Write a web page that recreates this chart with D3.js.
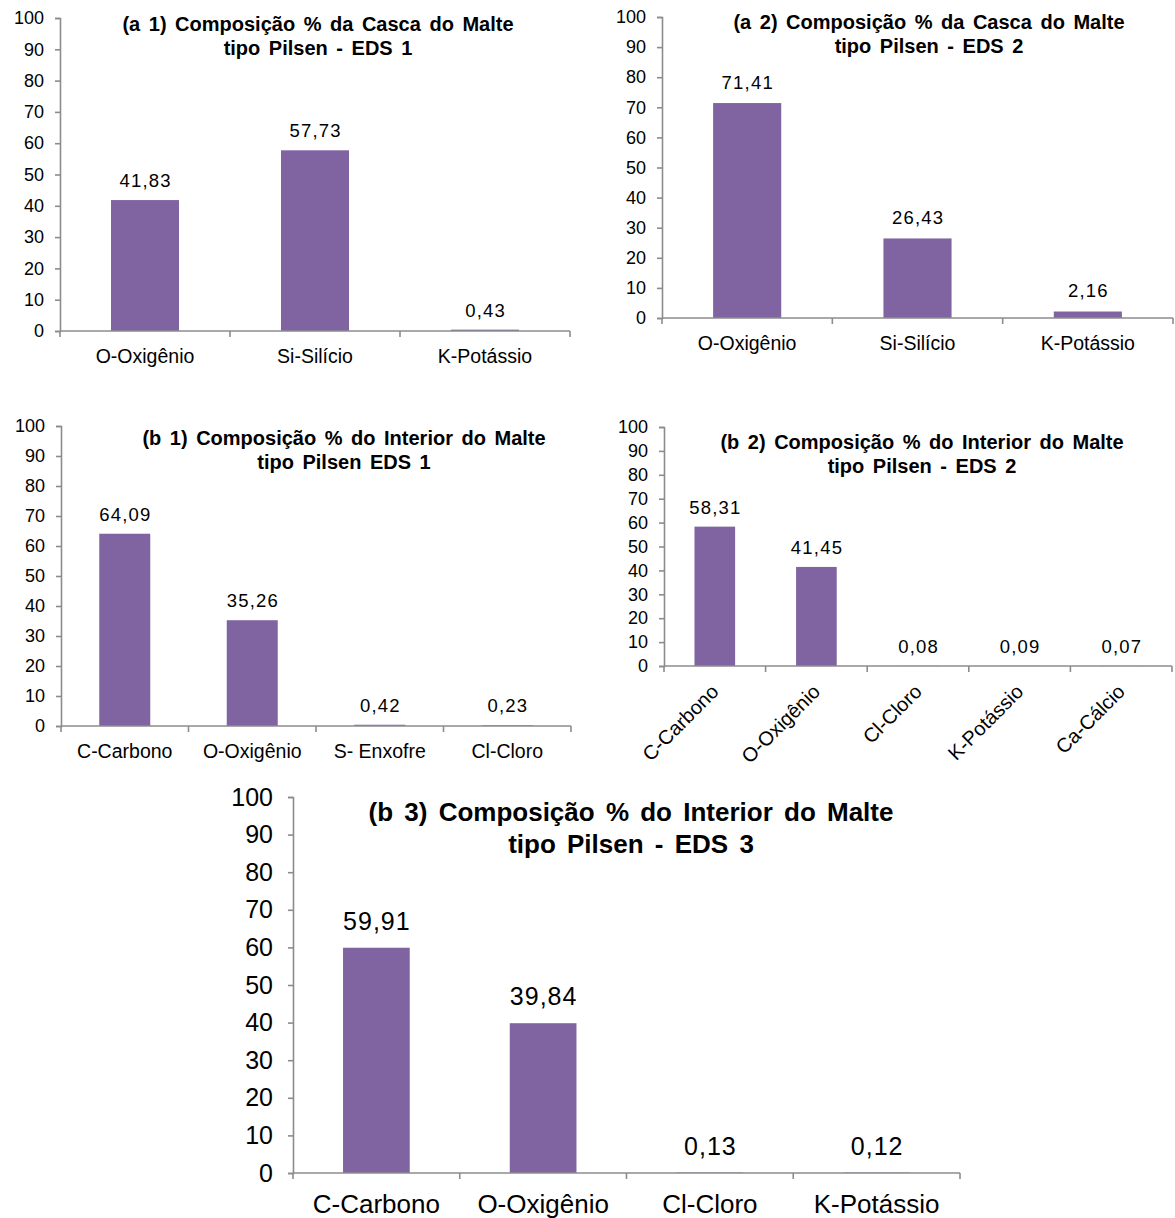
<!DOCTYPE html>
<html lang="pt">
<head>
<meta charset="utf-8">
<script src="https://cdn.jsdelivr.net/npm/d3@7"></script>
<style>
  html, body { margin: 0; padding: 0; background: #fff; }
  svg { display: block; }
  text { font-family: "Liberation Sans", Arial, sans-serif; fill: #000; }
</style>
</head>
<body>
<svg id="chart" width="1175" height="1218"></svg>
<script>
// Composição elementar (EDS) do malte tipo Pilsen, em % atômica
const a1Categories = ["O-Oxigênio", "Si-Silício", "K-Potássio"];
const a1Values = [41.83, 57.73, 0.43];

const a2Categories = ["O-Oxigênio", "Si-Silício", "K-Potássio"];
const a2Values = [71.41, 26.43, 2.16];

const b1Categories = ["C-Carbono", "O-Oxigênio", "S- Enxofre", "Cl-Cloro"];
const b1Values = [64.09, 35.26, 0.42, 0.23];

const b2Categories = ["C-Carbono", "O-Oxigênio", "Cl-Cloro", "K-Potássio", "Ca-Cálcio"];
const b2Values = [58.31, 41.45, 0.08, 0.09, 0.07];

const b3Categories = ["C-Carbono", "O-Oxigênio", "Cl-Cloro", "K-Potássio"];
const b3Values = [59.91, 39.84, 0.13, 0.12];

const yTicks = [0, 10, 20, 30, 40, 50, 60, 70, 80, 90, 100];

const a1Title = ["(a 1) Composição % da Casca do Malte", "tipo Pilsen - EDS 1"];
const a2Title = ["(a 2) Composição % da Casca do Malte", "tipo Pilsen - EDS 2"];
const b1Title = ["(b 1) Composição % do Interior do Malte", "tipo Pilsen EDS 1"];
const b2Title = ["(b 2) Composição % do Interior do Malte", "tipo Pilsen - EDS 2"];
const b3Title = ["(b 3) Composição % do Interior do Malte", "tipo Pilsen - EDS 3"];

const BAR = "#8064A2";
const AXIS = "#8c8c8c";
const fmt = v => v.toFixed(2).replace(".", ",");

const svg = d3.select("#chart");

function panel(opt) {
  const g = svg.append("g");
  const x = d3.scaleBand().domain(opt.categories).range([opt.left, opt.right]).padding(0);
  const y = d3.scaleLinear().domain([0, 100]).range([opt.bottom, opt.top]);
  const bw = x.bandwidth() * 0.4;

  // bars
  g.selectAll("rect.bar")
    .data(opt.values)
    .join("rect")
    .attr("class", "bar")
    .attr("x", (d, i) => x(opt.categories[i]) + (x.bandwidth() - bw) / 2)
    .attr("width", bw)
    .attr("y", d => y(d))
    .attr("height", d => y(0) - y(d))
    .attr("fill", BAR);

  // y axis
  const ya = g.append("g")
    .attr("transform", `translate(${opt.left},0)`)
    .call(d3.axisLeft(y).tickValues(yTicks).tickSize(5).tickPadding(opt.tickPad).tickFormat(d3.format("d")));
  ya.select(".domain").attr("stroke", AXIS).attr("stroke-width", 1.6);
  ya.selectAll(".tick line").attr("stroke", AXIS).attr("stroke-width", 1.6);
  ya.selectAll(".tick text")
    .style("font-family", '"Liberation Sans", Arial, sans-serif')
    .style("font-size", opt.tickFont + "px")
    .attr("fill", "#000");

  // x axis line with tick marks at category boundaries
  g.append("line")
    .attr("x1", opt.left).attr("x2", opt.right)
    .attr("y1", y(0)).attr("y2", y(0))
    .attr("stroke", AXIS).attr("stroke-width", 1.6);
  const edges = opt.categories.map(c => x(c)).concat([opt.right]);
  g.selectAll("line.xt")
    .data(edges)
    .join("line")
    .attr("class", "xt")
    .attr("x1", d => d).attr("x2", d => d)
    .attr("y1", y(0)).attr("y2", y(0) + 6)
    .attr("stroke", AXIS).attr("stroke-width", 1.6);

  // category labels
  const cl = g.selectAll("text.cat")
    .data(opt.categories)
    .join("text")
    .attr("class", "cat")
    .style("font-size", opt.catFont + "px");
  if (opt.rotate) {
    cl.attr("text-anchor", "end")
      .attr("transform", d => `translate(${x(d) + x.bandwidth() / 2 + 5},${y(0) + 27}) rotate(-45)`)
      .text(d => d);
  } else {
    cl.attr("text-anchor", "middle")
      .attr("x", d => x(d) + x.bandwidth() / 2)
      .attr("y", y(0) + opt.catOffset)
      .text(d => d);
  }

  // value labels
  g.selectAll("text.val")
    .data(opt.values)
    .join("text")
    .attr("class", "val")
    .attr("text-anchor", "middle")
    .style("font-size", opt.valFont + "px")
    .style("letter-spacing", opt.valSpacing + "px")
    .attr("x", (d, i) => x(opt.categories[i]) + x.bandwidth() / 2 + opt.valSpacing / 2)
    .attr("y", d => y(d) - opt.valOffset)
    .text(d => fmt(d));

  // title
  g.selectAll("text.title")
    .data(opt.title)
    .join("text")
    .attr("class", "title")
    .attr("text-anchor", "middle")
    .style("font-size", opt.titleFont + "px")
    .style("font-weight", "bold")
    .style("word-spacing", opt.wordSpacing + "px")
    .attr("x", opt.titleX)
    .attr("y", (d, i) => opt.titleY + i * opt.titleGap)
    .text(d => d);
}

const small = { tickFont: 18, tickPad: 11, catFont: 19.5, catOffset: 32, valFont: 18.5, valSpacing: 1.2,
                valOffset: 13, titleFont: 20, wordSpacing: 3, titleGap: 24 };

panel(Object.assign({}, small, {
  categories: a1Categories, values: a1Values, title: a1Title,
  left: 60, right: 570, top: 18, bottom: 331, titleX: 318, titleY: 31
}));

panel(Object.assign({}, small, {
  categories: a2Categories, values: a2Values, title: a2Title,
  left: 662, right: 1173, top: 17, bottom: 318, titleX: 929, titleY: 29, valOffset: 14
}));

panel(Object.assign({}, small, {
  categories: b1Categories, values: b1Values, title: b1Title,
  left: 61, right: 571, top: 426, bottom: 726, titleX: 344, titleY: 445
}));

panel(Object.assign({}, small, {
  categories: b2Categories, values: b2Values, title: b2Title, rotate: true, catFont: 20,
  left: 664, right: 1172, top: 427, bottom: 666, titleX: 922, titleY: 449
}));

panel({
  categories: b3Categories, values: b3Values, title: b3Title,
  left: 293, right: 960, top: 797, bottom: 1173,
  tickFont: 25, tickPad: 15, catFont: 26, catOffset: 40, valFont: 25, valSpacing: 1,
  valOffset: 18, titleFont: 26, wordSpacing: 4, titleGap: 32, titleX: 631, titleY: 821
});
</script>
</body>
</html>
